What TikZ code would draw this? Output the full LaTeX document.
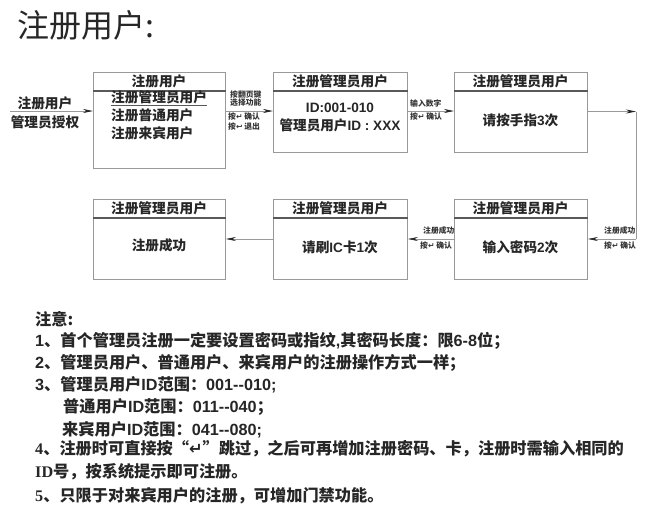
\documentclass[tikz,border=0pt]{standalone}
\usepackage{fontspec}
\usepackage{xcolor}
\usepackage{tikz}
\usetikzlibrary{arrows.meta}
\setmainfont{Noto Sans CJK SC}
\newfontfamily\symfont{DejaVu Sans}
\newfontfamily\arialfont{Liberation Sans}
\newfontfamily\timesfont{Liberation Serif}
\newcommand{\retkey}{{\symfont ↵}}
\newcommand{\esckey}{{\symfont ↩}}
\newcommand{\ar}[1]{{\arialfont #1}}
\newcommand{\tm}[1]{{\timesfont #1}}
\definecolor{boxgray}{gray}{0.6}
\definecolor{rulegray}{gray}{0.35}
\tikzset{
    regbox/.style={draw=boxgray, line width=0.9pt, anchor=north west, inner sep=0pt},
    headtext/.style={font=\fontsize{13.7}{16}\selectfont\bfseries, text=black!85},
    bodytext/.style={font=\fontsize{13.6}{18}\selectfont\bfseries, text=black!85, align=center},
    smalltext/.style={font=\fontsize{7.8}{7.5}\selectfont\bfseries, text=black!80, align=left, anchor=west, inner sep=0pt},
    notetext/.style={font=\fontsize{16.2}{18}\selectfont\bfseries, text=black!85, anchor=west, inner sep=0pt},
    flow/.style={draw=boxgray, line width=0.7pt, -{Stealth[length=10pt,width=4pt,black!85]}}
}
\begin{document}
\begin{tikzpicture}[x=1pt, y=-1pt]
    \useasboundingbox (0,0) rectangle (650,517);
    % title
    \node[anchor=west, inner sep=0pt, font=\fontsize{32}{36}\selectfont, text=black!85] (title) at (17,25) {注册用户:};
    % boxes, first row
    \node[regbox, minimum width=132pt, minimum height=96pt] (userbox) at (93,72) {};
    \node[regbox, minimum width=134pt, minimum height=80pt] (idbox) at (273,72) {};
    \node[regbox, minimum width=133pt, minimum height=80pt] (fingerbox) at (454,72) {};
    % boxes, second row
    \node[regbox, minimum width=133pt, minimum height=80pt] (pwdbox) at (454,199) {};
    \node[regbox, minimum width=134pt, minimum height=80pt] (cardbox) at (273,199) {};
    \node[regbox, minimum width=132pt, minimum height=80pt] (donebox) at (93,199) {};
    % header rules
    \foreach \b in {userbox,idbox,fingerbox,pwdbox,cardbox,donebox}{
        \draw[rulegray, line width=1.3pt] (\b.north west) ++(0,19) coordinate (\b hl) -- (\b hl -| \b.east);
    }
    % headers
    \node[headtext] (userhead) at (159,81.5) {注册用户};
    \node[headtext] (idhead) at (340,81.5) {注册管理员用户};
    \node[headtext] (fingerhead) at (520.5,81.5) {注册管理员用户};
    \node[headtext] (pwdhead) at (520.5,208.5) {注册管理员用户};
    \node[headtext] (cardhead) at (340,208.5) {注册管理员用户};
    \node[headtext] (donehead) at (159,208.5) {注册管理员用户};
    % box contents
    \node[headtext, anchor=west, inner sep=0pt] (adminitem) at (111,97.5) {注册管理员用户};
    \node[headtext, anchor=west, inner sep=0pt] (normalitem) at (111,115) {注册普通用户};
    \node[headtext, anchor=west, inner sep=0pt] (guestitem) at (111,133) {注册来宾用户};
    \draw[rulegray, line width=0.6pt] (adminitem.west |- 0,105) -- (adminitem.east |- 0,105);
    \node[bodytext] (idtext) at (340,117) {\ar{ID:001-010}\\管理员用户\ar{ID : XXX}};
    \node[bodytext] (fingertext) at (520.5,120) {请按手指\ar{3}次};
    \node[bodytext] (pwdtext) at (520.5,247) {输入密码\ar{2}次};
    \node[bodytext] (cardtext) at (340,247) {请刷\ar{IC}卡\ar{1}次};
    \node[bodytext] (donetext) at (159,245) {注册成功};
    % connectors
    \coordinate (start) at (10,111);
    \coordinate (corner1) at (636,111.5);
    \coordinate (corner2) at (636,239);
    \draw[flow] (start) -- (start -| userbox.west);
    \draw[flow] (userbox.east |- 0,111) -- (idbox.west |- 0,111);
    \draw[flow] (idbox.east |- 0,111) -- (fingerbox.west |- 0,111);
    \draw[flow] (fingerbox.east |- corner1) -- (corner1);
    \draw[draw=boxgray, line width=0.7pt] (corner1) -- (corner2);
    \draw[flow] (corner2) -- (pwdbox.east |- corner2);
    \draw[flow] (pwdbox.west |- corner2) -- (cardbox.east |- corner2);
    \draw[flow] (cardbox.west |- corner2) -- (donebox.east |- corner2);
    % connector labels
    \node[headtext] (grantup) at (45,103) {注册用户};
    \node[headtext] (grantdown) at (45,122) {管理员授权};
    \node[smalltext] (selup) at (230,98.5) {按翻页键\\选择功能};
    \node[smalltext, font=\fontsize{7.8}{10}\selectfont\bfseries] (seldown) at (228,122) {按\retkey{} 确认\\按\esckey{} 退出};
    \node[smalltext] (numup) at (410,104) {输入数字};
    \node[smalltext] (numdown) at (410,117) {按\retkey{} 确认};
    \node[smalltext] (okup) at (604,231) {注册成功};
    \node[smalltext] (okdown) at (604,246) {按\retkey{} 确认};
    \node[smalltext] (cardup) at (423,231) {注册成功};
    \node[smalltext] (carddown) at (420,246) {按\retkey{} 确认};
    % notes
    \node[notetext] (note0) at (35,319) {注意:};
    \node[notetext] (note1) at (35,341) {\ar{1}、首个管理员注册一定要设置密码或指纹\ar{,}其密码长度：限\ar{6-8}位；};
    \node[notetext] (note2) at (35,363) {\ar{2}、管理员用户、普通用户、来宾用户的注册操作方式一样；};
    \node[notetext] (note3) at (35,385) {\ar{3}、管理员用户\ar{ID}范围：\ar{001-{}-010;}};
    \node[notetext] (note4) at (63,407) {普通用户\ar{ID}范围：\ar{011-{}-040}；};
    \node[notetext] (note5) at (62,430) {来宾用户\ar{ID}范围：\ar{041-{}-080;}};
    \node[notetext] (note6) at (35,449) {\tm{4}、注册时可直接按“\retkey{}”跳过，之后可再增加注册密码、卡，注册时需输入相同的};
    \node[notetext] (note7) at (35,472) {\tm{ID}号，按系统提示即可注册。};
    \node[notetext] (note8) at (35,496) {\tm{5}、只限于对来宾用户的注册，可增加门禁功能。};
\end{tikzpicture}
\end{document}
